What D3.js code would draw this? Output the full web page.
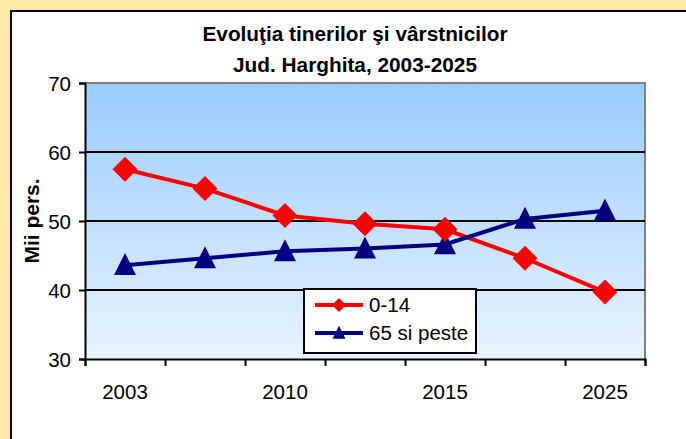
<!DOCTYPE html>
<html><head><meta charset="utf-8">
<script src="https://cdn.jsdelivr.net/npm/d3@7"></script>
<style>
html,body{margin:0;padding:0;background:#FFE8A8;}
svg{display:block;font-family:"Liberation Sans",Arial,sans-serif;}
</style></head>
<body>
<svg id="c" width="686" height="439"></svg>
<script>
const categories = ["2003", "", "2010", "", "2015", "", "2025"];
const seriesNames = ["0-14", "65 si peste"];
const young = [57.5, 54.7, 50.8, 49.6, 48.8, 44.6, 39.7];
const old = [43.6, 44.6, 45.6, 46.0, 46.6, 50.3, 51.5];
const yTicks = [30, 40, 50, 60, 70];
const titleLines = ["Evoluţia tinerilor şi vârstnicilor", "Jud. Harghita, 2003-2025"];
const yTitle = "Mii pers.";

const svg = d3.select("#c");
const W = 686, H = 439;
svg.append("rect").attr("width", W).attr("height", H).attr("fill", "#FFE8A8");
svg.append("rect").attr("x", 11).attr("y", 11).attr("width", W).attr("height", H)
  .attr("fill", "#fff").attr("stroke", "#000").attr("stroke-width", 2);

const L = 85, R = 645, T = 83, B = 359;
const idx = d3.range(categories.length);
const x = d3.scaleBand().domain(idx).range([L, R]).padding(0);
const xEdge = d3.scaleLinear().domain([0, categories.length]).range([L, R]);
const y = d3.scaleLinear().domain([30, 70]).range([B, T]);

const defs = svg.append("defs");
const g = defs.append("linearGradient").attr("id", "bg").attr("x1", 0).attr("y1", 0).attr("x2", 0).attr("y2", 1);
g.append("stop").attr("offset", "0").attr("stop-color", "#99CCFF");
g.append("stop").attr("offset", "1").attr("stop-color", "#E8F3FF");
svg.append("rect").attr("x", L).attr("y", T).attr("width", R - L).attr("height", B - T)
  .attr("fill", "url(#bg)");
svg.append("path").attr("d", `M${L},${T}H${R}V${B}`).attr("fill", "none")
  .attr("stroke", "#808080").attr("stroke-width", 2);

svg.append("g").selectAll("line").data(yTicks.filter(v => v > 30 && v < 70)).join("line")
  .attr("x1", L).attr("x2", R).attr("y1", d => y(d)).attr("y2", d => y(d))
  .attr("stroke", "#000").attr("stroke-width", 2);

const ya = svg.append("g").attr("transform", `translate(${L},0)`)
  .call(d3.axisLeft(y).tickValues(yTicks).tickSize(6).tickPadding(8).tickFormat(d3.format("d")));
ya.select(".domain").attr("stroke", "#000").attr("stroke-width", 2);
ya.selectAll(".tick line").attr("stroke", "#000").attr("stroke-width", 2);
ya.selectAll(".tick text").attr("font-size", 20.5).attr("fill", "#000")
  .attr("font-family", "Liberation Sans, Arial, sans-serif").attr("dy", "0.35em");

const xa = svg.append("g").attr("transform", `translate(0,${B})`)
  .call(d3.axisBottom(xEdge).tickValues(d3.range(categories.length + 1)).tickSize(7).tickFormat(""));
xa.select(".domain").attr("stroke", "#000").attr("stroke-width", 2);
xa.selectAll(".tick line").attr("stroke", "#000").attr("stroke-width", 2);
const xl = svg.append("g").attr("transform", `translate(0,${B})`)
  .call(d3.axisBottom(x).tickSize(0).tickPadding(25).tickFormat(i => categories[i]));
xl.select(".domain").remove();
xl.selectAll(".tick text").attr("font-size", 20.5).attr("fill", "#000")
  .attr("font-family", "Liberation Sans, Arial, sans-serif");

svg.append("g").selectAll("text").data(titleLines).join("text")
  .attr("x", 355).attr("y", (d, i) => 41 + i * 31).attr("text-anchor", "middle")
  .attr("font-size", 20.8).attr("font-weight", "bold").text(d => d);

svg.append("text").attr("transform", `translate(39,221) rotate(-90)`)
  .attr("text-anchor", "middle").attr("font-size", 21).attr("font-weight", "bold").text(yTitle);

const cx = i => x(i) + x.bandwidth() / 2;
const line = d3.line().x((d, i) => cx(i)).y(d => y(d));
const diamond = s => `M0,${-s}L${s},0L0,${s}L${-s},0Z`;
const tri = s => `M0,${-s * 1.1}L${s},${s * 0.9}L${-s},${s * 0.9}Z`;

svg.append("path").datum(young).attr("d", line).attr("fill", "none")
  .attr("stroke", "#FF0000").attr("stroke-width", 4);
svg.append("path").datum(old).attr("d", line).attr("fill", "none")
  .attr("stroke", "#000080").attr("stroke-width", 4);
svg.append("g").selectAll("path").data(old).join("path")
  .attr("transform", (d, i) => `translate(${cx(i)},${y(d)})`).attr("d", tri(11)).attr("fill", "#000080");
svg.append("g").selectAll("path").data(young).join("path")
  .attr("transform", (d, i) => `translate(${cx(i)},${y(d)})`).attr("d", diamond(12.5)).attr("fill", "#FF0000");

const lg = svg.append("g");
lg.append("rect").attr("x", 304).attr("y", 289).attr("width", 172).attr("height", 64)
  .attr("fill", "#fff").attr("stroke", "#000").attr("stroke-width", 2);
const colors = ["#FF0000", "#000080"];
seriesNames.forEach((n, i) => {
  const yy = 305 + i * 28;
  lg.append("line").attr("x1", 315).attr("x2", 363).attr("y1", yy).attr("y2", yy)
    .attr("stroke", colors[i]).attr("stroke-width", 4);
  lg.append("path").attr("transform", `translate(339,${yy})`)
    .attr("d", i === 0 ? diamond(7) : tri(6.5)).attr("fill", colors[i]);
  lg.append("text").attr("x", 369).attr("y", yy).attr("dy", "0.35em")
    .attr("font-size", 20.5).text(n);
});
</script>
</body></html>
